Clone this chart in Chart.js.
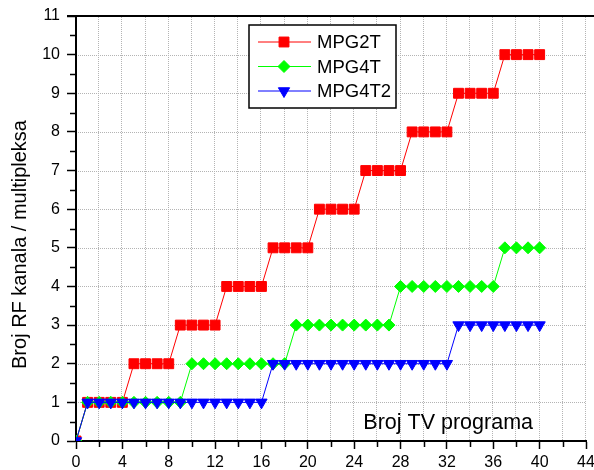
<!DOCTYPE html>
<html>
<head>
<meta charset="utf-8">
<script src="https://cdn.jsdelivr.net/npm/chart.js@4/dist/chart.umd.min.js"></script>
<style>
  html, body { margin: 0; padding: 0; background: #fff; }
</style>
</head>
<body>
<canvas id="chartCanvas" width="594" height="470"></canvas>
<script>
// Broj TV programa (x) i broj RF kanala po standardu (y)
const brojPrograma = [0, 1, 2, 3, 4, 5, 6, 7, 8, 9, 10, 11, 12, 13, 14, 15, 16, 17, 18, 19, 20,
    21, 22, 23, 24, 25, 26, 27, 28, 29, 30, 31, 32, 33, 34, 35, 36, 37, 38, 39, 40];
const mpg2t = [0, 1, 1, 1, 1, 2, 2, 2, 2, 3, 3, 3, 3, 4, 4, 4, 4, 5, 5, 5, 5,
    6, 6, 6, 6, 7, 7, 7, 7, 8, 8, 8, 8, 9, 9, 9, 9, 10, 10, 10, 10];
const mpg4t = [0, 1, 1, 1, 1, 1, 1, 1, 1, 1, 2, 2, 2, 2, 2, 2, 2, 2, 2, 3, 3,
    3, 3, 3, 3, 3, 3, 3, 4, 4, 4, 4, 4, 4, 4, 4, 4, 5, 5, 5, 5];
const mpg4t2 = [0, 1, 1, 1, 1, 1, 1, 1, 1, 1, 1, 1, 1, 1, 1, 1, 1, 2, 2, 2, 2,
    2, 2, 2, 2, 2, 2, 2, 2, 2, 2, 2, 2, 3, 3, 3, 3, 3, 3, 3, 3];
const seriesNames = ['MPG2T', 'MPG4T', 'MPG4T2'];
const xTitle = 'Broj TV programa';
const yTitle = 'Broj RF kanala / multipleksa';

const FONT = '"Liberation Sans", Arial, sans-serif';
const CLEAR = 'rgba(0,0,0,0)';
const GRID = '#b4b4b4';

const toPoints = arr => arr.map((v, i) => ({ x: brojPrograma[i], y: v }));

// Mreza od tackica, crta se posle skala a pre serija
const gridPlugin = {
    id: 'dotGrid',
    afterDraw(chart) {},
    beforeDatasetsDraw(chart) {
        const { ctx, chartArea: a, scales } = chart;
        ctx.save();
        ctx.fillStyle = GRID;
        for (let v = 2; v <= 44; v += 2) {
            const px = Math.round(scales.x.getPixelForValue(v)) - 1;
            for (let y = Math.ceil(a.top) + 1; y < a.bottom - 1; y += 2) {
                ctx.fillRect(px, y, 1, 1);
            }
        }
        for (let v = 1; v < 11; v += 1) {
            const py = Math.round(scales.y.getPixelForValue(v));
            for (let x = Math.ceil(a.left) + 2; x < a.right; x += 2) {
                ctx.fillRect(x, py, 1, 1);
            }
        }
        ctx.restore();
    }
};

// Kratke (minor) crtice, naslovi osa, gornja linija i legenda u okviru
const decorPlugin = {
    id: 'decor',
    afterDraw(chart) {
        const { ctx, chartArea: a, scales } = chart;
        ctx.save();

        ctx.strokeStyle = '#000';
        ctx.lineWidth = 1.5;
        ctx.beginPath();
        for (let v = 2; v < 44; v += 4) {
            const px = Math.round(scales.x.getPixelForValue(v)) + 0.5;
            ctx.moveTo(px, a.bottom);
            ctx.lineTo(px, a.bottom + 6);
        }
        for (let v = 0.5; v < 11; v += 1) {
            const py = Math.round(scales.y.getPixelForValue(v)) + 0.5;
            ctx.moveTo(a.left, py);
            ctx.lineTo(a.left - 6, py);
        }
        ctx.stroke();

        // gornja linija
        ctx.lineWidth = 2;
        ctx.beginPath();
        ctx.moveTo(a.left - 9, a.top);
        ctx.lineTo(chart.width, a.top);
        ctx.stroke();

        // naslovi osa
        ctx.fillStyle = '#000';
        ctx.font = '21.5px ' + FONT;
        ctx.textAlign = 'right';
        ctx.textBaseline = 'alphabetic';
        ctx.fillText(xTitle, a.right - 53, a.bottom - 12);

        ctx.font = '20px ' + FONT;
        ctx.save();
        ctx.translate(20, (a.top + a.bottom) / 2 + 16);
        ctx.rotate(-Math.PI / 2);
        ctx.textAlign = 'center';
        ctx.textBaseline = 'middle';
        ctx.fillText(yTitle, 0, 0);
        ctx.restore();

        // legenda
        const left = a.left + 173, top = a.top + 9, w = 147, h = 83;
        ctx.fillStyle = '#fff';
        ctx.fillRect(left, top, w, h);
        ctx.strokeStyle = '#000';
        ctx.lineWidth = 1.5;
        ctx.strokeRect(left, top, w, h);
        chart.data.datasets.forEach((ds, i) => {
            const y = top + 17 + i * 24.5;
            ctx.strokeStyle = ds.borderColor;
            ctx.lineWidth = 1;
            ctx.beginPath();
            ctx.moveTo(left + 9, y);
            ctx.lineTo(left + 62, y);
            ctx.stroke();
            ctx.fillStyle = ds.pointBackgroundColor;
            ctx.strokeStyle = ds.pointBorderColor;
            Chart.helpers.drawPoint(ctx, {
                pointStyle: ds.pointStyle,
                rotation: ds.pointRotation || 0,
                radius: ds.pointRadius,
                borderWidth: 1
            }, left + 35, y);
            ctx.fillStyle = '#000';
            ctx.font = '18.5px ' + FONT;
            ctx.textAlign = 'left';
            ctx.textBaseline = 'middle';
            ctx.fillText(ds.label, left + 68, y + 1);
        });
        ctx.restore();
    }
};

function makeSet(label, data, color, style, radius, rotation, order) {
    return {
        label: label,
        data: toPoints(data),
        borderColor: color,
        backgroundColor: color,
        borderWidth: 1,
        pointStyle: style,
        pointRadius: radius,
        pointRotation: rotation,
        pointBackgroundColor: color,
        pointBorderColor: color,
        pointBorderWidth: 1,
        pointHoverRadius: radius,
        order: order
    };
}

new Chart(document.getElementById('chartCanvas'), {
    type: 'line',
    data: {
        datasets: [
            makeSet(seriesNames[0], mpg2t, '#ff0000', 'rect', 7, 0, 2),
            makeSet(seriesNames[1], mpg4t, '#00ff00', 'rectRot', 6, 0, 1),
            makeSet(seriesNames[2], mpg4t2, '#0000ff', 'triangle', 6.5, 180, 0)
        ]
    },
    options: {
        responsive: false,
        animation: false,
        devicePixelRatio: 1,
        layout: { padding: { top: 16, right: 8, left: 0, bottom: 0 } },
        plugins: {
            legend: { display: false },
            tooltip: { enabled: false }
        },
        scales: {
            x: {
                type: 'linear',
                min: 0,
                max: 44,
                ticks: {
                    stepSize: 2,
                    autoSkip: false,
                    maxRotation: 0,
                    padding: 4,
                    color: '#000',
                    font: { family: FONT, size: 16 },
                    callback: v => (v % 4 === 0 ? v : '')
                },
                grid: {
                    drawOnChartArea: false,
                    tickLength: 8,
                    tickWidth: 1.5,
                    tickColor: c => (c.tick && c.tick.value % 4 === 0 ? '#000' : CLEAR)
                },
                border: { color: '#000', width: 2 },
                afterFit: s => {
                    s.height = 29;
                    s.paddingLeft = 0;
                    s.paddingRight = 0;
                }
            },
            y: {
                min: 0,
                max: 11,
                ticks: {
                    stepSize: 0.5,
                    autoSkip: false,
                    padding: 7,
                    color: '#000',
                    font: { family: FONT, size: 16 },
                    callback: v => (Number.isInteger(v) ? v : '')
                },
                grid: {
                    drawOnChartArea: false,
                    tickLength: 9,
                    tickWidth: 1.5,
                    tickColor: c => (c.tick && Number.isInteger(c.tick.value) ? '#000' : CLEAR)
                },
                border: { color: '#000', width: 2 },
                afterFit: s => {
                    s.width = 76;
                    s.paddingTop = 0;
                    s.paddingBottom = 0;
                }
            }
        }
    },
    plugins: [gridPlugin, decorPlugin]
});
</script>
</body>
</html>
